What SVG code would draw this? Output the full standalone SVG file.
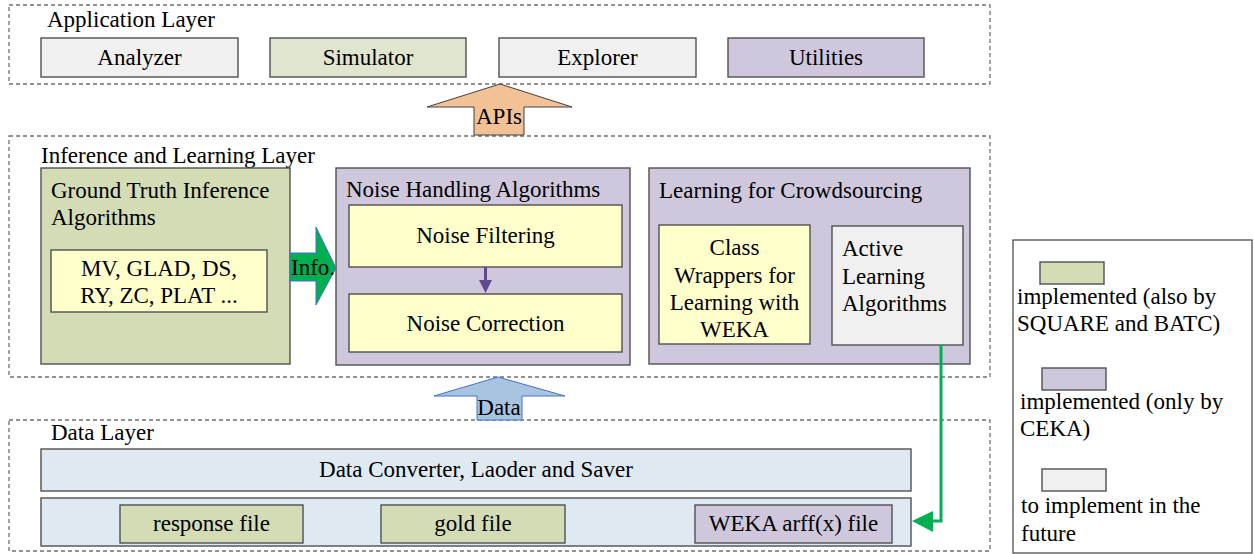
<svg xmlns="http://www.w3.org/2000/svg" width="1254" height="554" viewBox="0 0 1254 554">
<defs>
<style>
text{font-family:"Liberation Serif","Times New Roman",serif;font-size:23px;fill:#000}
.c{text-anchor:middle}
.layer{fill:none;stroke:#707070;stroke-width:1.3;stroke-dasharray:4 3}
.box{stroke:#505050;stroke-width:1.4}
.gray{fill:#f0f0f0}
.green{fill:#d4dcb6}
.lgreen{fill:#dfe5cf}
.purple{fill:#cfc8dd}
.yellow{fill:#ffffcc}
.blue{fill:#dfe9f2}
</style>
</defs>

<g id="application-layer">
<rect class="layer" x="9" y="5" width="981" height="79"/>
<text x="47" y="27">Application Layer</text>
</g>
<g id="analyzer"><rect class="box gray" x="41" y="38" width="197" height="39"/><text class="c" x="139.5" y="65">Analyzer</text></g>
<g id="simulator"><rect class="box lgreen" x="270" y="38" width="196" height="39"/><text class="c" x="368" y="65">Simulator</text></g>
<g id="explorer"><rect class="box gray" x="499" y="38" width="197" height="39"/><text class="c" x="597.5" y="65">Explorer</text></g>
<g id="utilities"><rect class="box purple" x="728" y="38" width="196" height="39"/><text class="c" x="826" y="65">Utilities</text></g>

<g id="inference-layer">
<rect class="layer" x="9" y="136" width="981" height="241"/>
<text x="41" y="163">Inference and Learning Layer</text>
</g>
<g id="ground-truth">
<rect class="box green" x="41" y="168" width="249" height="196"/>
<text x="51" y="198">Ground Truth Inference</text>
<text x="51" y="225">Algorithms</text>
</g>
<g id="gt-algorithms">
<rect class="box yellow" x="51" y="250" width="216" height="62"/>
<text class="c" x="159" y="276">MV, GLAD, DS,</text>
<text class="c" x="159" y="303">RY, ZC, PLAT ...</text>
</g>
<g id="noise-handling">
<rect class="box purple" x="336" y="168" width="294" height="197"/>
<text x="346" y="197">Noise Handling Algorithms</text>
</g>
<g id="noise-filtering"><rect class="box yellow" x="349" y="205" width="273" height="62"/><text class="c" x="485.5" y="243">Noise Filtering</text></g>
<g id="noise-correction"><rect class="box yellow" x="349" y="294" width="273" height="58"/><text class="c" x="485.5" y="331">Noise Correction</text></g>
<g id="learning">
<rect class="box purple" x="649" y="168" width="321" height="196"/>
<text x="659" y="198">Learning for Crowdsourcing</text>
</g>
<g id="class-wrappers">
<rect class="box yellow" x="659" y="225" width="151" height="119"/>
<text class="c" x="734.5" y="255">Class</text>
<text class="c" x="734.5" y="283">Wrappers for</text>
<text class="c" x="734.5" y="310">Learning with</text>
<text class="c" x="734.5" y="337">WEKA</text>
</g>
<g id="active-learning">
<rect class="box gray" x="832" y="226" width="131" height="119"/>
<text x="842" y="256">Active</text>
<text x="842" y="284">Learning</text>
<text x="842" y="311">Algorithms</text>
</g>

<g id="data-layer">
<rect class="layer" x="9" y="420" width="981" height="131"/>
<text x="51" y="440">Data Layer</text>
</g>
<g id="data-converter"><rect class="box blue" x="41" y="449" width="870" height="42"/><text class="c" x="476" y="477">Data Converter, Laoder and Saver</text></g>
<g id="files-row"><rect class="box blue" x="41" y="498" width="870" height="48"/></g>
<g id="response-file"><rect class="box green" x="120" y="505" width="183" height="38"/><text class="c" x="211.5" y="531">response file</text></g>
<g id="gold-file"><rect class="box green" x="381" y="505" width="184" height="38"/><text class="c" x="473" y="531">gold file</text></g>
<g id="weka-file"><rect class="box purple" x="695" y="505" width="197" height="38"/><text class="c" x="793.5" y="531">WEKA arff(x) file</text></g>

<g id="legend">
<rect x="1013" y="240" width="239" height="313" fill="#fff" stroke="#404040" stroke-width="1.2"/>
<rect class="box green" x="1040" y="262" width="64" height="22"/>
<text x="1017" y="304">implemented (also by</text>
<text x="1017" y="331">SQUARE and BATC)</text>
<rect class="box purple" x="1042" y="368" width="64" height="22"/>
<text x="1020" y="409">implemented (only by</text>
<text x="1020" y="436">CEKA)</text>
<rect class="box gray" x="1042" y="469" width="64" height="22"/>
<text x="1021" y="513">to implement in the</text>
<text x="1021" y="541">future</text>
</g>

<g id="connectors">
<g id="apis-arrow">
<path d="M500,84 L572,107 L524,107 L524,135 L474,135 L474,107 L427,107 Z" fill="#f3c196" stroke="#404040" stroke-width="1"/>
<text class="c" x="499" y="124">APIs</text>
</g>
<g id="data-arrow">
<path d="M498,377 L565,396 L522,396 L522,420 L477,420 L477,396 L434,396 Z" fill="#a9c4e0" stroke="#4472c4" stroke-width="1"/>
<text class="c" x="499" y="415">Data</text>
</g>
<g id="info-arrow">
<path d="M290,253 L316,253 L316,227 L336,268 L316,305 L316,281 L290,281 Z" fill="#00b050" stroke="#4472c4" stroke-width="1"/>
<text x="291" y="275">Info.</text>
</g>
<g id="filter-to-correction">
<line x1="485.5" y1="267" x2="485.5" y2="282" stroke="#5f4b8b" stroke-width="3"/>
<path d="M479,280 L492,280 L485.5,293 Z" fill="#5f4b8b"/>
</g>
<g id="active-to-weka">
<polyline points="941,345 941,521 930,521" fill="none" stroke="#00b050" stroke-width="3"/>
<path d="M912,521 L933,511 L933,532 Z" fill="#00b050"/>
</g>
</g>
</svg>
